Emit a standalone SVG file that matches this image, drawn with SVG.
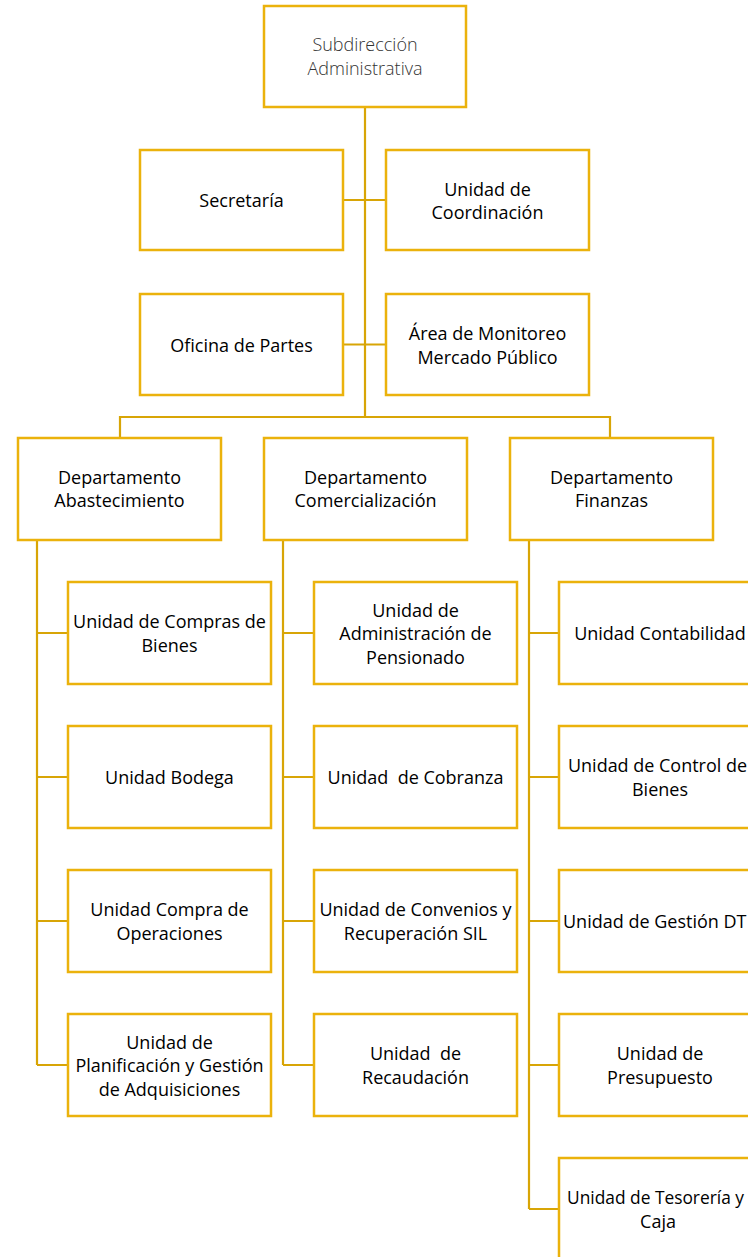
<svg xmlns="http://www.w3.org/2000/svg" width="748" height="1257" viewBox="0 0 748 1257">
<style>
.box{fill:#ffffff;stroke:#EBB20C;stroke-width:2.5}
.lbl{font-family:"Open Sans","Liberation Sans",sans-serif;font-size:18px;fill:#000000;text-anchor:middle}
.light{font-weight:300;fill:#333333}
.con{fill:none;stroke:#D8A506;stroke-width:2.2}
</style>
<rect width="748" height="1257" fill="#ffffff"/>
<g id="connectors">
<path class="con" d="M365 107V417M343 200H386M343 344.5H386M120 438V417H610V438"/>
<path class="con" d="M37 540V1065M37 633H68M37 777H68M37 921H68M37 1065H68"/>
<path class="con" d="M283 540V1065M283 633H314M283 777H314M283 921H314M283 1065H314"/>
<path class="con" d="M529 540V1209M529 633H559M529 777H559M529 921H559M529 1065H559M529 1209H559"/>
</g>
<g id="subdireccion"><rect class="box" x="264" y="6" width="202" height="101"/><text class="lbl light" x="365" y="51">Subdirección</text><text class="lbl light" x="365" y="75">Administrativa</text></g>
<g id="secretaria"><rect class="box" x="140" y="150" width="203" height="100"/><text class="lbl" x="241.5" y="207">Secretaría</text></g>
<g id="coordinacion"><rect class="box" x="386" y="150" width="203" height="100"/><text class="lbl" x="487.5" y="195.5">Unidad de</text><text class="lbl" x="487.5" y="219">Coordinación</text></g>
<g id="oficina-partes"><rect class="box" x="140" y="294" width="203" height="101"/><text class="lbl" x="241.5" y="351.5">Oficina de Partes</text></g>
<g id="monitoreo"><rect class="box" x="386" y="294" width="203" height="101"/><text class="lbl" x="487.5" y="340">Área de Monitoreo</text><text class="lbl" x="487.5" y="363.5">Mercado Público</text></g>
<g id="dep-abastecimiento"><rect class="box" x="18" y="438" width="203" height="102"/><text class="lbl" x="119.5" y="483.5">Departamento</text><text class="lbl" x="119.5" y="507">Abastecimiento</text></g>
<g id="dep-comercializacion"><rect class="box" x="264" y="438" width="203" height="102"/><text class="lbl" x="365.5" y="483.5">Departamento</text><text class="lbl" x="365.5" y="507">Comercialización</text></g>
<g id="dep-finanzas"><rect class="box" x="510" y="438" width="203" height="102"/><text class="lbl" x="611.5" y="483.5">Departamento</text><text class="lbl" x="611.5" y="507">Finanzas</text></g>
<g id="compras-bienes"><rect class="box" x="68" y="582" width="203" height="102"/><text class="lbl" x="169.5" y="628">Unidad de Compras de</text><text class="lbl" x="169.5" y="651.5">Bienes</text></g>
<g id="bodega"><rect class="box" x="68" y="726" width="203" height="102"/><text class="lbl" x="169.5" y="784">Unidad Bodega</text></g>
<g id="compra-operaciones"><rect class="box" x="68" y="870" width="203" height="102"/><text class="lbl" x="169.5" y="916">Unidad Compra de</text><text class="lbl" x="169.5" y="939.5">Operaciones</text></g>
<g id="planificacion"><rect class="box" x="68" y="1014" width="203" height="102"/><text class="lbl" x="169.5" y="1048.5">Unidad de</text><text class="lbl" x="169.5" y="1072">Planificación y Gestión</text><text class="lbl" x="169.5" y="1095.5">de Adquisiciones</text></g>
<g id="pensionado"><rect class="box" x="314" y="582" width="203" height="102"/><text class="lbl" x="415.5" y="616.5">Unidad de</text><text class="lbl" x="415.5" y="640">Administración de</text><text class="lbl" x="415.5" y="663.5">Pensionado</text></g>
<g id="cobranza"><rect class="box" x="314" y="726" width="203" height="102"/><text class="lbl" x="415.5" y="784" xml:space="preserve">Unidad  de Cobranza</text></g>
<g id="convenios"><rect class="box" x="314" y="870" width="203" height="102"/><text class="lbl" x="415.5" y="916">Unidad de Convenios y</text><text class="lbl" x="415.5" y="939.5">Recuperación SIL</text></g>
<g id="recaudacion"><rect class="box" x="314" y="1014" width="203" height="102"/><text class="lbl" x="415.5" y="1060" xml:space="preserve">Unidad  de</text><text class="lbl" x="415.5" y="1083.5">Recaudación</text></g>
<g id="contabilidad"><rect class="box" x="559" y="582" width="203" height="102"/><text class="lbl" x="660" y="640">Unidad Contabilidad</text></g>
<g id="control-bienes"><rect class="box" x="559" y="726" width="203" height="102"/><text class="lbl" x="568" y="772" style="text-anchor:start" textLength="179" lengthAdjust="spacingAndGlyphs">Unidad de Control de</text><text class="lbl" x="660" y="795.5">Bienes</text></g>
<g id="gestion-dte"><rect class="box" x="559" y="870" width="203" height="102"/><text class="lbl" x="563" y="928" style="text-anchor:start">Unidad de Gestión DT</text></g>
<g id="presupuesto"><rect class="box" x="559" y="1014" width="203" height="102"/><text class="lbl" x="660" y="1060">Unidad de</text><text class="lbl" x="660" y="1083.5">Presupuesto</text></g>
<g id="tesoreria"><rect class="box" x="559" y="1158" width="203" height="102"/><text class="lbl" x="567" y="1204" style="text-anchor:start" textLength="177" lengthAdjust="spacingAndGlyphs">Unidad de Tesorería y</text><text class="lbl" x="658" y="1227.5">Caja</text></g>
</svg>
